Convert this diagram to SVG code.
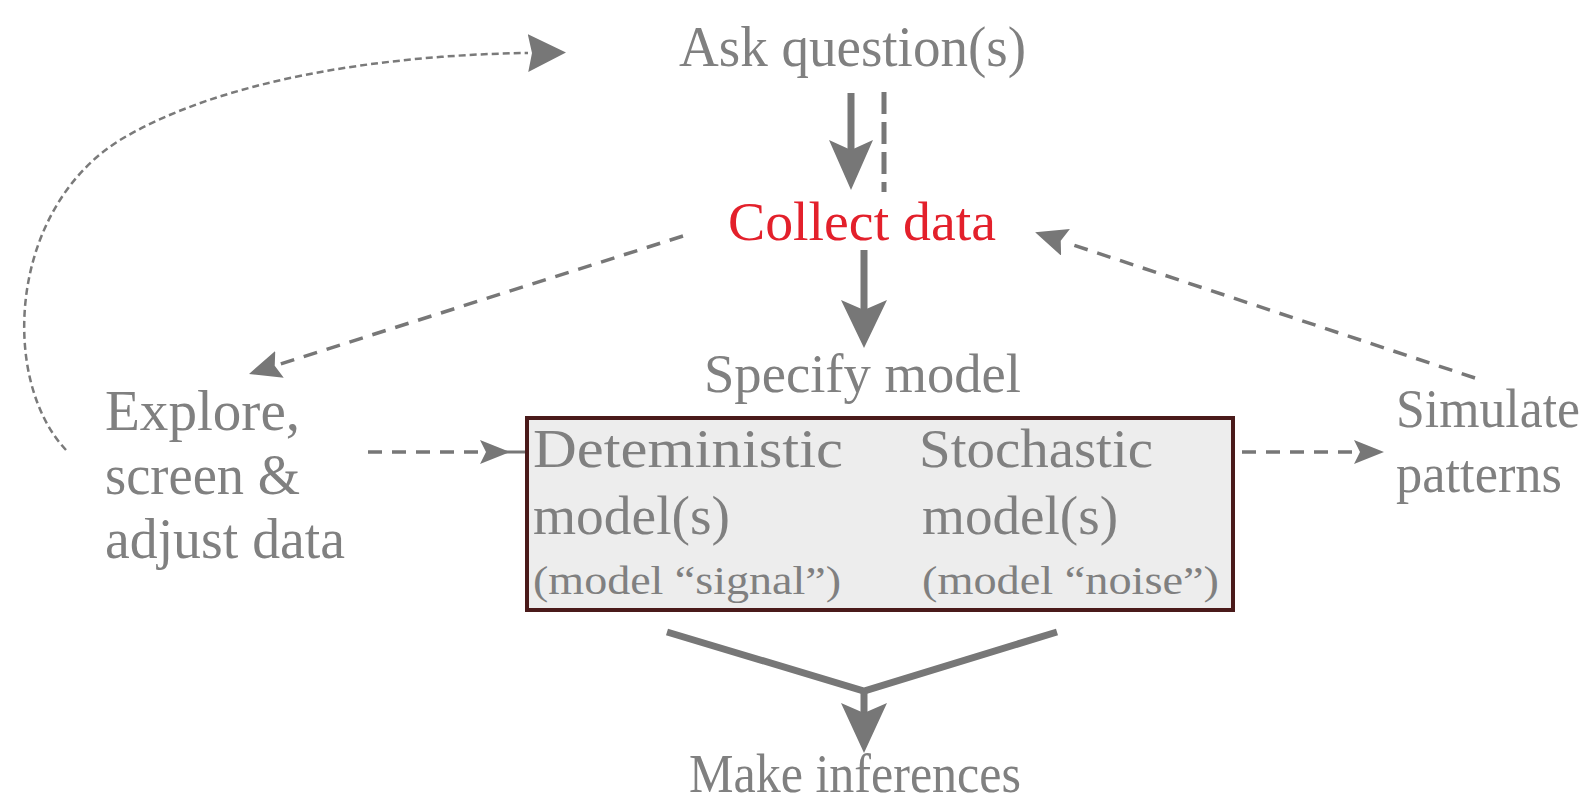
<svg xmlns="http://www.w3.org/2000/svg" width="1593" height="804" viewBox="0 0 1593 804">
<style>
  .t { font-family: "Liberation Serif", "Times New Roman", serif; font-size: 54px; fill: #808080; }
  .L { font-size: 57px; }
  .s { font-family: "Liberation Serif", "Times New Roman", serif; font-size: 40px; fill: #808080; }
  .red { fill: #e3202b; }
  .solid { stroke: #777; stroke-width: 7; fill: none; }
  .dash { stroke: #777; stroke-width: 3.5; fill: none; stroke-dasharray: 14 10; }
  .dot { stroke: #7a7a7a; stroke-width: 2.5; fill: none; stroke-dasharray: 7 4; }
  .head { fill: #777; }
</style>
<defs>
  <marker id="hBig" markerUnits="userSpaceOnUse" viewBox="0 0 40 40" markerWidth="40" markerHeight="40" refX="0" refY="20" orient="auto">
    <path d="M0,1 L38,20 L0,39 L4,20 z" fill="#777"/>
  </marker>
  <marker id="hMed" markerUnits="userSpaceOnUse" viewBox="0 0 34 28" markerWidth="34" markerHeight="28" refX="0" refY="14" orient="auto">
    <path d="M0,0 L32,14 L0,28 L5,14 z" fill="#777"/>
  </marker>
  <marker id="hSm" markerUnits="userSpaceOnUse" viewBox="0 0 32 24" markerWidth="32" markerHeight="24" refX="0" refY="12" orient="auto">
    <path d="M0,0 L30,12 L0,24 L6,12 z" fill="#777"/>
  </marker>
</defs>

<g id="connectors">
  <!-- Ask -> Collect (solid) -->
  <line class="solid" x1="851" y1="93" x2="851" y2="150"/>
  <polygon class="head" points="829,140 851,150 873,140 851,190"/>
  <!-- dashed parallel line -->
  <line x1="884" y1="92" x2="884" y2="192" stroke="#777" stroke-width="5" stroke-dasharray="22 8"/>
  <!-- Collect -> Specify (solid) -->
  <line class="solid" x1="864" y1="250" x2="864" y2="310"/>
  <polygon class="head" points="841,300 864,310 887,300 864,348"/>
  <!-- Collect -> Explore (dashed) -->
  <line class="dash" x1="683" y1="236" x2="279.5" y2="364.3" marker-end="url(#hMed)"/>
  <!-- Simulate -> Collect (dashed) -->
  <line class="dash" x1="1475" y1="378" x2="1065.5" y2="242.4" marker-end="url(#hMed)"/>
  <!-- Explore -> Ask (dotted curve) -->
  <path class="dot" d="M66,450 C0,380 8,210 120,140 C220,80 380,55 528,53" marker-end="url(#hBig)"/>
  <!-- Explore -> Box -->
  <line class="dash" x1="368" y1="452" x2="480" y2="452" marker-end="url(#hSm)"/>
  <line x1="505" y1="452" x2="526" y2="452" stroke="#777" stroke-width="3"/>
  <!-- Box -> Simulate -->
  <line class="dash" x1="1242" y1="452" x2="1354" y2="452" marker-end="url(#hSm)"/>
  <!-- Box -> Make inferences (merging) -->
  <polyline class="solid" points="667,632 864,691 1057,632"/>
  <line class="solid" x1="864" y1="691" x2="864" y2="715"/>
  <polygon class="head" points="841,703 864,713 887,703 864,753"/>
</g>

<g id="ask">
  <text class="t L" x="679" y="66" textLength="347" lengthAdjust="spacingAndGlyphs">Ask question(s)</text>
</g>
<g id="collect">
  <text class="t red" x="728" y="240" font-size="56" textLength="268" lengthAdjust="spacingAndGlyphs">Collect data</text>
</g>
<g id="specify">
  <text class="t" x="704" y="392" font-size="55" textLength="317" lengthAdjust="spacingAndGlyphs">Specify model</text>
</g>
<g id="explore">
  <text class="t L" x="105" y="430" textLength="195" lengthAdjust="spacingAndGlyphs">Explore,</text>
  <text class="t L" x="105" y="494" textLength="195" lengthAdjust="spacingAndGlyphs">screen &amp;</text>
  <text class="t L" x="105" y="558" textLength="240" lengthAdjust="spacingAndGlyphs">adjust data</text>
</g>
<g id="model-box">
  <rect x="527" y="418" width="706" height="192" fill="#ededed" stroke="#4a1a1a" stroke-width="4"/>
  <text class="t" x="533" y="467" textLength="310" lengthAdjust="spacingAndGlyphs">Deteministic</text>
  <text class="t" x="533" y="534" textLength="197" lengthAdjust="spacingAndGlyphs">model(s)</text>
  <text class="s" x="533" y="594" textLength="308" lengthAdjust="spacingAndGlyphs">(model “signal”)</text>
  <text class="t" x="919" y="467" textLength="234" lengthAdjust="spacingAndGlyphs">Stochastic</text>
  <text class="t" x="922" y="534" textLength="196" lengthAdjust="spacingAndGlyphs">model(s)</text>
  <text class="s" x="922" y="594" textLength="297" lengthAdjust="spacingAndGlyphs">(model “noise”)</text>
</g>
<g id="simulate">
  <text class="t" x="1396" y="427" font-size="53" textLength="184" lengthAdjust="spacingAndGlyphs">Simulate</text>
  <text class="t" x="1396" y="492" font-size="53" textLength="166" lengthAdjust="spacingAndGlyphs">patterns</text>
</g>
<g id="make">
  <text class="t" x="689" y="792" textLength="332" lengthAdjust="spacingAndGlyphs">Make inferences</text>
</g>
</svg>
